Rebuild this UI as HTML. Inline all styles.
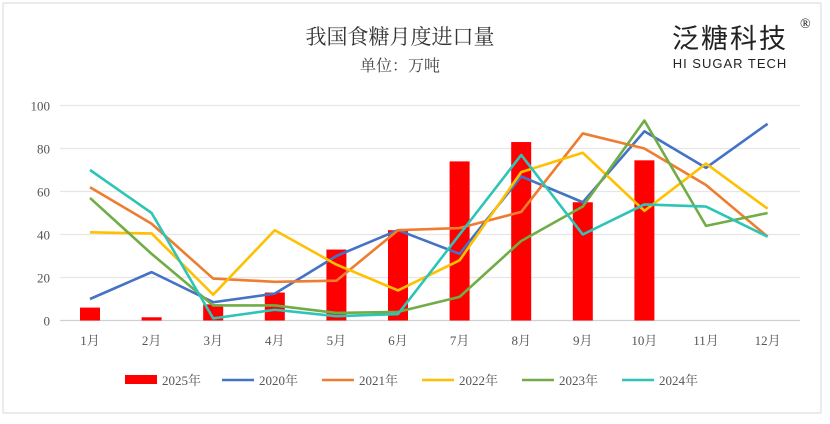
<!DOCTYPE html>
<html><head><meta charset="utf-8"><style>
body{margin:0;background:#fff;font-family:"Liberation Serif","Noto Serif CJK SC",serif}
svg text{font-family:"Liberation Serif","Noto Serif CJK SC",serif}
</style></head><body>
<svg id="c" width="830" height="419">
<rect x="3" y="3" width="818" height="410" fill="#fff" stroke="#d9d9d9"/>
<text x="400" y="44" text-anchor="middle" font-size="21" fill="#333">我国食糖月度进口量</text>
<text x="400" y="71" text-anchor="middle" font-size="16" fill="#444">单位：万吨</text>
<text x="730" y="48" text-anchor="middle" font-size="27" fill="#222" letter-spacing="2" style="font-family:'Noto Sans CJK SC',sans-serif">泛糖科技</text>
<text x="800" y="28" font-size="14" fill="#222">®</text>
<text x="730" y="68" text-anchor="middle" font-size="13" fill="#222" letter-spacing="1" style="font-family:'Liberation Sans',sans-serif">HI SUGAR TECH</text>
<g id="grid"></g><g id="bars"></g><g id="lines"></g><g id="axis"></g><g id="legend"></g>
</svg>
<script>
const months=["1月","2月","3月","4月","5月","6月","7月","8月","9月","10月","11月","12月"];
const yTicks=[0,20,40,60,80,100];
const s2025=[6,1.5,7.5,13,33,42,74,83,55,74.5];
const s2020=[10,22.5,8.5,12.5,30,42,31,67,55,88,71,91.5];
const s2021=[62,45,19.5,18,18.5,42,43,50.5,87,80,63,39];
const s2022=[41,40.5,12,42,26,14,28,69,78,51,73,52];
const s2023=[57,31,7,7,3.5,4,11,37,53,93,44,50];
const s2024=[70,50,1,5,2,3,40,77,40,54,53,39];
const seriesNames=["2020年","2021年","2022年","2023年","2024年"];
const colors=["#4472c4","#ed7d31","#ffc000","#70ad47","#2ec4b6"];
const NS="http://www.w3.org/2000/svg";
const x=i=>90+i*61.6, y=v=>320.5-v*2.15;
function mk(t,a,p){const e=document.createElementNS(NS,t);for(const k in a)e.setAttribute(k,a[k]);document.getElementById(p).appendChild(e);return e;}
yTicks.forEach(t=>{
 const l=mk("line",{x1:60,x2:800,y1:y(t),y2:y(t),stroke:t?"#e6e6e6":"#d0d0d0","stroke-width":1.2},"grid");
 
 
 const tx=mk("text",{x:50,y:y(t)+5,"text-anchor":"end","font-size":13,fill:"#555"},"axis");tx.textContent=t;
 
 
});
months.forEach((m,i)=>{
 const tx=mk("text",{x:x(i),y:345,"text-anchor":"middle","font-size":13,fill:"#555"},"axis");tx.textContent=m;
 
 
});
s2025.forEach((v,i)=>{
 const r=mk("rect",{x:x(i)-10,y:y(v),width:20,height:v*2.15,fill:"#ff0000"},"bars");
 
 
});
[s2020,s2021,s2022,s2023,s2024].forEach((s,k)=>{
 const p=mk("polyline",{points:s.map((v,i)=>x(i)+","+y(v)).join(" "),fill:"none",stroke:colors[k],"stroke-width":2.6,"stroke-linejoin":"round"},"lines");
 
 
});
let lx=125;
const lr=mk("rect",{x:lx,y:375,width:32,height:9,fill:"#ff0000"},"legend");


const lt=mk("text",{x:lx+37,y:385,"font-size":13,fill:"#555"},"legend");lt.textContent="2025年";


seriesNames.forEach((n,k)=>{
 const bx=222+k*100;
 const l=mk("line",{x1:bx,x2:bx+32,y1:380,y2:380,stroke:colors[k],"stroke-width":2.6},"legend");
 
 
 const t=mk("text",{x:bx+37,y:385,"font-size":13,fill:"#555"},"legend");t.textContent=n;
 
 
});
</script>
</body></html>
